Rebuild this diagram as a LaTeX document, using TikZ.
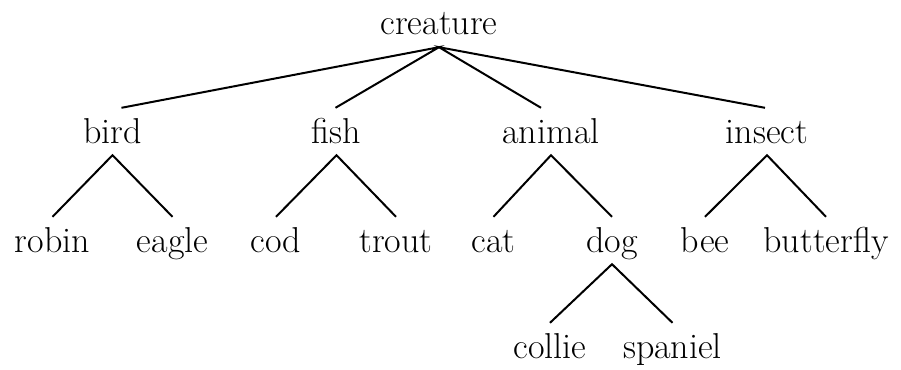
\documentclass[tikz,border=0pt]{standalone}
\usepackage{fontspec}
\usetikzlibrary{calc}
\begin{document}
\begin{tikzpicture}[x=1pt,y=-1pt,
  word/.style={anchor=base,inner xsep=0pt,inner ysep=3pt,text height=32pt,text depth=9pt,font=\fontsize{36}{40}\selectfont},
  edge/.style={draw=black,line width=2pt}]
\useasboundingbox (0,0) rectangle (901,369);
\node[word] (creature) at (439,35) {creature};
\node[word] (bird) at (112.5,143) {bird};
\node[word] (fish) at (336.5,143) {fish};
\node[word] (animal) at (551,143) {animal};
\node[word] (insect) at (767,143) {insect};
\node[word] (robin) at (52.5,252) {robin};
\node[word] (eagle) at (172.5,252) {eagle};
\node[word] (cod) at (276,252) {cod};
\node[word] (trout) at (396,252) {trout};
\node[word] (cat) at (493.5,252) {cat};
\node[word] (dog) at (612,252) {dog};
\node[word] (bee) at (705,252) {bee};
\node[word] (butterfly) at (826,252) {butterfly};
\node[word] (collie) at (550,358) {collie};
\node[word] (spaniel) at (672.5,358) {spaniel};
\draw[edge] ($(bird.north)+(9,0)$) -- (creature.south) -- ($(fish.north)+(-1,0)$);
\draw[edge] ($(animal.north)+(-10,0)$) -- (creature.south) -- ($(insect.north)+(-2,0)$);
\draw[edge] (robin.north) -- (bird.south) -- (eagle.north);
\draw[edge] (cod.north) -- (fish.south) -- (trout.north);
\draw[edge] (cat.north) -- (animal.south) -- (dog.north);
\draw[edge] (bee.north) -- (insect.south) -- (butterfly.north);
\draw[edge] (collie.north) -- (dog.south) -- (spaniel.north);
\end{tikzpicture}
\end{document}
